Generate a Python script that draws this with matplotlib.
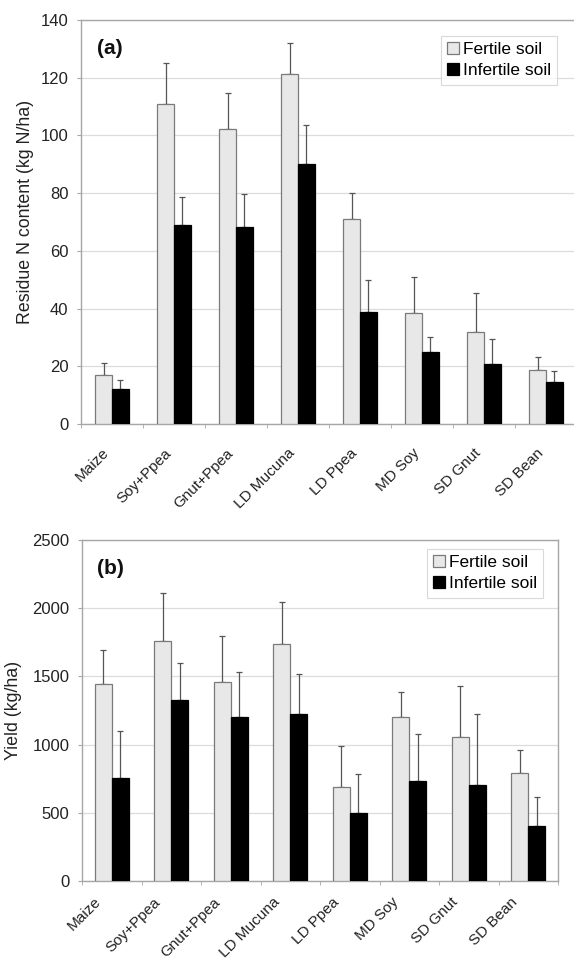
import numpy as np
import matplotlib
matplotlib.use('Agg')
import matplotlib.pyplot as plt
from matplotlib.transforms import ScaledTranslation

plt.rcParams['font.family'] = ['Liberation Sans', 'DejaVu Sans']

# 处理名称
crops = ['Maize', 'Soy+Ppea', 'Gnut+Ppea', 'LD Mucuna', 'LD Ppea', 'MD Soy', 'SD Gnut', 'SD Bean']

# (a) 残茬氮含量 (kg N/ha)
n_fertile = [17.0, 110.9, 102.4, 121.4, 71.2, 38.5, 31.9, 18.8]
n_fertile_err = [4.3, 14.1, 12.2, 10.7, 9.0, 12.4, 13.4, 4.5]
n_infertile = [12.3, 68.8, 68.1, 90.1, 38.8, 25.0, 20.7, 14.4]
n_infertile_err = [2.9, 10.0, 11.5, 13.5, 11.0, 5.3, 8.6, 4.0]

# (b) 产量 (kg/ha)
y_fertile = [1443, 1761, 1461, 1734, 687, 1200, 1054, 793]
y_fertile_err = [247, 350, 335, 313, 306, 187, 372, 168]
y_infertile = [756, 1325, 1202, 1224, 502, 734, 704, 404]
y_infertile_err = [347, 274, 332, 296, 281, 347, 518, 209]

fig = plt.figure(figsize=(5.74, 9.6), dpi=100)
ax1 = fig.add_axes([81/574, 1-424/960, 496/574, 404/960])
ax2 = fig.add_axes([82/574, 1-881/960, 476/574, 341/960])

light = '#e8e8e8'
edge = '#7a7a7a'
spine_c = '#a6a6a6'


def draw(ax, fert, fert_err, infert, infert_err, ymax, step, ylabel, tag, tag_xy, bw, leg_xy, lab_shift):
    x = np.arange(len(crops))
    ax.bar(x - bw/2, fert, bw, color=light, edgecolor=edge, linewidth=0.9,
           label='Fertile soil', zorder=3)
    ax.bar(x + bw/2, infert, bw, color='black', edgecolor='black', linewidth=0.9,
           label='Infertile soil', zorder=3)
    ax.errorbar(x - bw/2, fert, yerr=[np.zeros(len(fert)), fert_err], fmt='none',
                ecolor='#555555', elinewidth=0.9, capsize=2.5, capthick=0.9, zorder=2)
    ax.errorbar(x + bw/2, infert, yerr=[np.zeros(len(infert)), infert_err], fmt='none',
                ecolor='#555555', elinewidth=0.9, capsize=2.5, capthick=0.9, zorder=2)

    ax.set_xlim(-0.5, len(crops) - 0.5)
    ax.set_ylim(0, ymax)
    ax.set_yticks(np.arange(0, ymax + 1, step))
    ax.yaxis.grid(True, color='#dcdcdc', linewidth=0.9, zorder=0)
    ax.set_axisbelow(True)

    ax.set_xticks(x)
    ax.set_xticklabels(crops, rotation=45, ha='right', rotation_mode='anchor', fontsize=11)
    ax.set_xticks(np.arange(-0.5, len(crops)), minor=True)
    ax.tick_params(axis='x', which='major', length=0, pad=10, labelcolor='#222222')
    ax.tick_params(axis='x', which='minor', length=3, color=spine_c)
    ax.tick_params(axis='y', length=3, color=spine_c, labelsize=12, pad=6, labelcolor='#222222')
    off = ScaledTranslation(lab_shift[0] / 100, lab_shift[1] / 100, fig.dpi_scale_trans)
    for lab in ax.get_xticklabels():
        lab.set_transform(lab.get_transform() + off)
    for s in ax.spines.values():
        s.set_color(spine_c)
        s.set_linewidth(1.0)

    ax.set_ylabel(ylabel, fontsize=12.8, color='#222222')
    ax.text(tag_xy[0], tag_xy[1], tag, transform=ax.transAxes, fontsize=15,
            fontweight='bold', va='center', color='#111111')

    leg = ax.legend(loc='upper right', bbox_to_anchor=leg_xy, bbox_transform=fig.transFigure,
                    fontsize=12.5, frameon=True, fancybox=False, handlelength=0.7,
                    handleheight=0.7, handletextpad=0.2, borderpad=0.35,
                    labelspacing=0.35, borderaxespad=0)
    leg.get_frame().set_edgecolor('#d0d0d0')
    leg.get_frame().set_linewidth(0.8)


draw(ax1, n_fertile, n_fertile_err, n_infertile, n_infertile_err, 140, 20,
     'Residue N content (kg N/ha)', '(a)', (0.032, 0.93), 0.274, (557/574, 1-36/960), (-10, -8))
draw(ax2, y_fertile, y_fertile_err, y_infertile, y_infertile_err, 2500, 500,
     'Yield (kg/ha)', '(b)', (0.0315, 0.915), 0.286, (543/574, 1-549/960), (-18, 0))

ax1.yaxis.set_label_coords(-0.095, 0.525)
ax2.yaxis.set_label_coords(-0.125, 0.5)

fig.savefig('out.png', dpi=100)
